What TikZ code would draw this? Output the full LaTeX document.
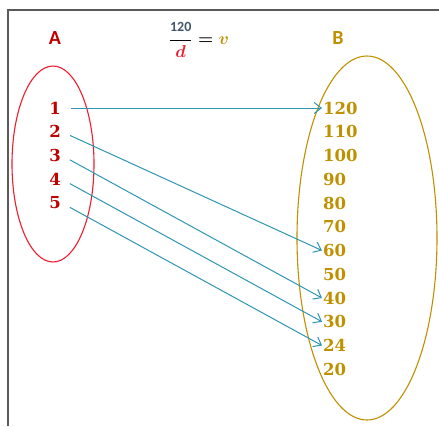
\documentclass[tikz,border=0pt]{standalone}
\usepackage{fontspec}
\usetikzlibrary{arrows.meta}
\newfontfamily\numfont{DejaVu Serif}
\newfontfamily\labfont{Carlito}
\definecolor{darkred}{HTML}{C00000}
\definecolor{ringred}{HTML}{EE1C2E}
\definecolor{gold}{HTML}{BF9000}
\definecolor{slate}{HTML}{44546A}
\definecolor{teal}{HTML}{2E96B2}
\definecolor{framegray}{HTML}{5A5A5A}

\begin{document}
\begin{tikzpicture}[
  x=1pt, y=-1pt,
  setname/.style={font=\labfont\bfseries\fontsize{20}{24}\selectfont},
  numA/.style={font=\numfont\bfseries\fontsize{16.5}{20}\selectfont, text=darkred, inner sep=1pt},
  numB/.style={font=\numfont\bfseries\fontsize{16.5}{20}\selectfont, text=gold, inner sep=1pt, anchor=west},
  conn/.style={draw=teal, line width=1pt, -{Straight Barb[length=7pt,width=11pt]}, shorten <=9pt}
]
\useasboundingbox (0,0) rectangle (439,426);
\draw[framegray, line width=1.2pt] (8,426) -- (8,10) -- (439,10);

\node[setname, text=darkred] (A) at (55,38) {A};
\node[setname, text=gold] (B) at (338,38) {B};
\node[font=\fontsize{17}{20}\selectfont\boldmath] (rule) at (199,40)
  {$\displaystyle\frac{\mbox{\labfont\bfseries\fontsize{14}{16}\selectfont\color{slate}120}}{\color{ringred}d}
   = \color{gold}v$};

% the two sets
\draw[ringred, line width=1.1pt] (53,164) ellipse [x radius=41, y radius=98];
\draw[gold, line width=1.1pt] (367,238) ellipse [x radius=70, y radius=182];

\foreach \n [count=\i from 0] in {1,2,3,4,5}
  \node[numA] (a\n) at (55,108+23.75*\i) {\n};
\foreach \v [count=\i from 0] in {120,110,100,90,80,70,60,50,40,30,24,20}
  \node[numB] (b\v) at (322,108+23.75*\i) {\v};

\draw[conn] (a1.east) -- (b120.west);
\draw[conn] (a2.east) -- (b60.west);
\draw[conn] (a3.east) -- (b40.west);
\draw[conn] (a4.east) -- (b30.west);
\draw[conn] (a5.east) -- (b24.west);

\end{tikzpicture}
\end{document}
